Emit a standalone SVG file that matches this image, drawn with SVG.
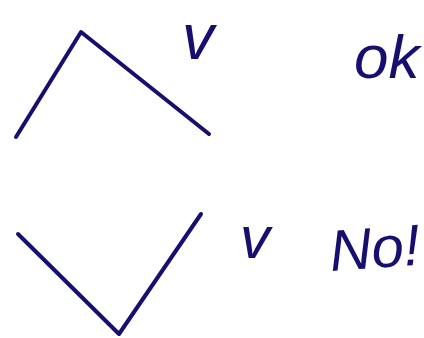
<svg xmlns="http://www.w3.org/2000/svg" width="424" height="338" viewBox="0 0 424 338">
<style>
.ln{fill:none;stroke:#170f70;stroke-width:4;stroke-linecap:round;stroke-linejoin:round}
.t{fill:#170f70;font-family:"Liberation Sans",Arial,sans-serif;font-style:italic}
</style>
<rect width="424" height="338" fill="#ffffff"/>
<g id="connectors">
<polyline id="peak" class="ln" points="16,137 81,32 209,134"/>
<polyline id="valley" class="ln" points="18,234 119,334 201,214"/>
</g>
<g id="label-v1"><text class="t" x="182" y="59" font-size="64">v</text></g>
<g id="label-ok"><text class="t" x="354" y="78" font-size="62">ok</text></g>
<g id="label-v2"><text class="t" x="240" y="258" font-size="60">v</text></g>
<g id="label-no"><text class="t" x="331" y="271" font-size="58" transform="rotate(-4 331 271)">No!</text></g>
</svg>
